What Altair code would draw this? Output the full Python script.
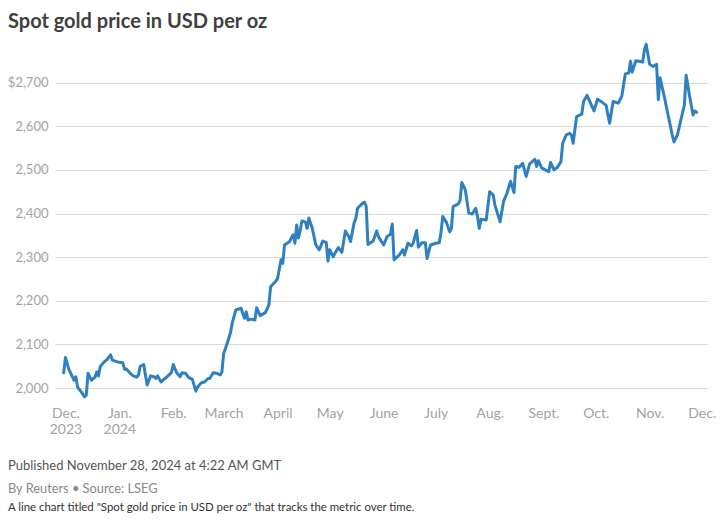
import altair as alt
import pandas as pd

# ---- data ----
DATES = [
    "2023-11-30", "2023-12-01", "2023-12-03", "2023-12-05", "2023-12-06", "2023-12-07",
    "2023-12-08", "2023-12-10", "2023-12-12", "2023-12-13", "2023-12-14", "2023-12-16",
    "2023-12-18", "2023-12-19", "2023-12-20", "2023-12-21", "2023-12-23", "2023-12-25",
    "2023-12-27", "2023-12-28", "2023-12-31", "2024-01-03", "2024-01-04", "2024-01-05",
    "2024-01-07", "2024-01-09", "2024-01-11", "2024-01-12", "2024-01-13", "2024-01-15",
    "2024-01-17", "2024-01-19", "2024-01-21", "2024-01-22", "2024-01-23", "2024-01-25",
    "2024-01-27", "2024-01-29", "2024-01-31", "2024-02-01", "2024-02-03", "2024-02-05",
    "2024-02-06", "2024-02-08", "2024-02-10", "2024-02-12", "2024-02-14", "2024-02-15",
    "2024-02-17", "2024-02-19", "2024-02-21", "2024-02-22", "2024-02-24", "2024-02-26",
    "2024-02-28", "2024-02-29", "2024-03-01", "2024-03-03", "2024-03-05", "2024-03-06",
    "2024-03-08", "2024-03-11", "2024-03-13", "2024-03-14", "2024-03-15", "2024-03-17",
    "2024-03-19", "2024-03-20", "2024-03-22", "2024-03-25", "2024-03-27", "2024-03-28",
    "2024-03-31", "2024-04-01", "2024-04-03", "2024-04-04", "2024-04-05", "2024-04-08",
    "2024-04-09", "2024-04-10", "2024-04-11", "2024-04-12", "2024-04-13", "2024-04-14",
    "2024-04-15", "2024-04-17", "2024-04-18", "2024-04-19", "2024-04-21", "2024-04-23",
    "2024-04-25", "2024-04-27", "2024-04-29", "2024-04-30", "2024-05-01", "2024-05-03",
    "2024-05-04", "2024-05-06", "2024-05-08", "2024-05-10", "2024-05-12", "2024-05-13",
    "2024-05-15", "2024-05-16", "2024-05-17", "2024-05-20", "2024-05-21", "2024-05-22",
    "2024-05-23", "2024-05-26", "2024-05-28", "2024-05-29", "2024-06-01", "2024-06-03",
    "2024-06-05", "2024-06-06", "2024-06-07", "2024-06-10", "2024-06-12", "2024-06-13",
    "2024-06-15", "2024-06-17", "2024-06-18", "2024-06-20", "2024-06-21", "2024-06-23",
    "2024-06-25", "2024-06-26", "2024-06-28", "2024-07-01", "2024-07-03", "2024-07-04",
    "2024-07-05", "2024-07-07", "2024-07-09", "2024-07-10", "2024-07-11", "2024-07-14",
    "2024-07-15", "2024-07-16", "2024-07-18", "2024-07-20", "2024-07-22", "2024-07-24",
    "2024-07-25", "2024-07-26", "2024-07-27", "2024-07-30", "2024-08-01", "2024-08-03",
    "2024-08-04", "2024-08-07", "2024-08-09", "2024-08-11", "2024-08-13", "2024-08-15",
    "2024-08-16", "2024-08-18", "2024-08-20", "2024-08-22", "2024-08-24", "2024-08-27",
    "2024-08-28", "2024-08-29", "2024-08-31", "2024-09-02", "2024-09-04", "2024-09-05",
    "2024-09-07", "2024-09-09", "2024-09-11", "2024-09-12", "2024-09-14", "2024-09-16",
    "2024-09-17", "2024-09-18", "2024-09-20", "2024-09-23", "2024-09-24", "2024-09-26",
    "2024-09-28", "2024-09-30", "2024-10-02", "2024-10-04", "2024-10-07", "2024-10-08",
    "2024-10-09", "2024-10-11", "2024-10-14", "2024-10-16", "2024-10-18", "2024-10-20",
    "2024-10-21", "2024-10-22", "2024-10-24", "2024-10-26", "2024-10-28", "2024-10-29",
    "2024-10-30", "2024-11-01", "2024-11-03", "2024-11-05", "2024-11-06", "2024-11-07",
    "2024-11-09", "2024-11-11", "2024-11-14", "2024-11-15", "2024-11-17", "2024-11-19",
    "2024-11-21", "2024-11-22", "2024-11-24", "2024-11-26", "2024-11-27", "2024-11-28",
]

PRICES = [
    2035, 2070, 2043, 2026, 2018, 2026,
    2002, 1992, 1980, 1984, 2034, 2018,
    2025, 2037, 2028, 2049, 2059, 2066,
    2076, 2064, 2060, 2058, 2043, 2044,
    2035, 2028, 2025, 2030, 2050, 2054,
    2007, 2028, 2026, 2022, 2028, 2014,
    2021, 2028, 2036, 2054, 2035, 2026,
    2035, 2034, 2024, 2020, 1993, 2002,
    2012, 2014, 2022, 2022, 2035, 2034,
    2030, 2037, 2079, 2102, 2128, 2150,
    2179, 2183, 2160, 2175, 2156, 2158,
    2156, 2184, 2166, 2173, 2190, 2232,
    2245, 2251, 2294, 2286, 2328, 2336,
    2345, 2351, 2332, 2374, 2344, 2360,
    2383, 2381, 2366, 2390, 2366, 2328,
    2317, 2337, 2334, 2291, 2317, 2301,
    2309, 2322, 2311, 2360, 2347, 2336,
    2378, 2388, 2412, 2424, 2426, 2416,
    2329, 2337, 2360, 2347, 2328, 2347,
    2353, 2376, 2294, 2305, 2317, 2305,
    2332, 2326, 2332, 2361, 2323, 2333,
    2333, 2297, 2328, 2332, 2333, 2356,
    2393, 2381, 2358, 2366, 2416, 2422,
    2431, 2471, 2454, 2401, 2399, 2412,
    2393, 2366, 2387, 2385, 2450, 2443,
    2420, 2381, 2428, 2447, 2474, 2448,
    2508, 2506, 2515, 2485, 2514, 2524,
    2508, 2521, 2504, 2500, 2496, 2517,
    2500, 2506, 2519, 2561, 2580, 2584,
    2580, 2561, 2622, 2628, 2657, 2671,
    2653, 2635, 2662, 2657, 2648, 2626,
    2607, 2657, 2653, 2669, 2720, 2722,
    2749, 2724, 2750, 2749, 2747, 2775,
    2788, 2742, 2737, 2742, 2661, 2711,
    2676, 2638, 2580, 2564, 2580, 2615,
    2649, 2717, 2669, 2626, 2635, 2632,
]

Y_TICKS = [2000, 2100, 2200, 2300, 2400, 2500, 2600, 2700]
MONTH_LABELS = ["Jan.", "Feb.", "March", "April", "May", "June",
                "July", "Aug.", "Sept.", "Oct.", "Nov.", "Dec."]
X_TICKS = [(2023, 12)] + [(2024, m) for m in range(1, 13)]

TITLE = ["Spot gold price in USD per oz"]
PUBLISHED = ["Published November 28, 2024 at 4:22 AM GMT"]
BYLINE = ["By Reuters \u2022 Source: LSEG"]
DESCRIPTION = ['A line chart titled "Spot gold price in USD per oz" that tracks the metric over time.']

df = pd.DataFrame({"date": DATES, "price": PRICES})

FONT = "Lato"
LABEL_GREY = "#a3a3a3"

months_js = "[" + ",".join("'" + m + "'" for m in MONTH_LABELS) + "]"
x_label_expr = (
    "(utcyear(datum.value) == 2023 || (utcyear(datum.value) == 2024 && utcmonth(datum.value) == 0))"
    " ? [" + months_js + "[utcmonth(datum.value)], '' + utcyear(datum.value)]"
    " : " + months_js + "[utcmonth(datum.value)]"
)

x_values = [alt.DateTime(year=y, month=m, date=1, utc=True) for (y, m) in X_TICKS]

line = alt.Chart(df).mark_line(
    color="#2f80c1", strokeWidth=3, strokeJoin="round", strokeCap="round"
).encode(
    x=alt.X(
        "date:T",
        scale=alt.Scale(
            type="utc",
            domain=[alt.DateTime(year=2023, month=11, date=25, utc=True),
                    alt.DateTime(year=2024, month=12, date=4, utc=True)],
        ),
        axis=alt.Axis(
            values=x_values, labelExpr=x_label_expr, title=None, grid=False,
            ticks=False, domain=False, labelPadding=7, labelFont=FONT,
            labelFontSize=14, labelColor=LABEL_GREY, labelLineHeight=16,
            labelAlign="center", labelOverlap=False, labelBound=False,
            labelFlush=False,
        ),
    ),
    y=alt.Y(
        "price:Q",
        scale=alt.Scale(domain=[1975, 2800], nice=False, zero=False),
        axis=alt.Axis(
            values=Y_TICKS,
            labelExpr="datum.value == 2700 ? '$2,700' : format(datum.value, ',')",
            title=None, grid=True, gridColor="#d9d9d9", gridWidth=1,
            ticks=False, domain=False, labelPadding=7, labelFont=FONT,
            labelFontSize=13, labelColor=LABEL_GREY,
        ),
    ),
)

def text_layer(lines, x, y, size, color, weight="normal"):
    return alt.Chart(pd.DataFrame({"t": lines})).mark_text(
        align="left", baseline="alphabetic", font=FONT, fontSize=size,
        color=color, fontWeight=weight,
    ).encode(text="t:N", x=alt.value(x), y=alt.value(y))

title = text_layer(TITLE, -47, -11, 20, "#404040", "bold")
pub = text_layer(PUBLISHED, -47, 431, 13, "#555555")
by = text_layer(BYLINE, -47, 454, 12.8, "#888888")
desc = text_layer(DESCRIPTION, -47, 472, 11.4, "#333333")

chart = alt.layer(line, title, pub, by, desc).properties(
    width=652,
    height=360,
    padding={"left": 47, "top": 31, "right": 9, "bottom": 118},
    autosize=alt.AutoSizeParams(type="none"),
).configure_view(stroke=None)

chart.save("out.html", embed_options={"renderer": "svg", "actions": False})
